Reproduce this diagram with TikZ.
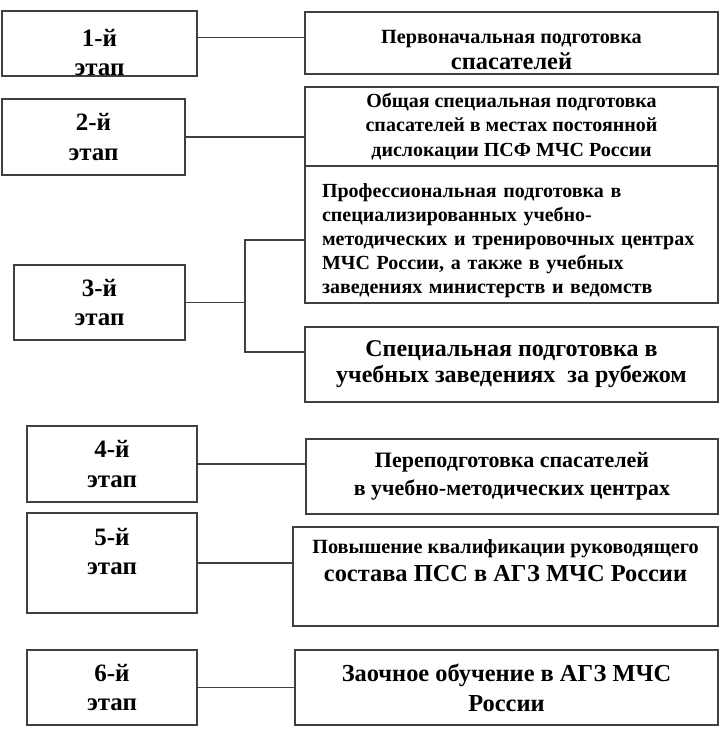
\documentclass[tikz,border=0pt]{standalone}
\usepackage{fontspec}
\setmainfont{Liberation Serif}
\usetikzlibrary{positioning,calc}

% font sizes used in the boxes
\newcommand{\bigtxt}{\fontsize{24.4}{26}\selectfont}
\newcommand{\smalltxt}{\fontsize{20.2}{26}\selectfont}

\tikzset{
  stagebox/.style={draw=black!75, line width=1.5pt, align=center, inner sep=0pt,
    minimum width=170, minimum height=75, font=\bfseries\fontsize{25}{29.5}\selectfont},
  taskbox/.style={draw=black!75, line width=1.5pt, align=center, inner sep=0pt,
    minimum width=413, font=\bfseries},
  link/.style={draw=black!75, line width=1.5pt}
}

\begin{document}
\begin{tikzpicture}[x=1pt, y=1pt]
        \useasboundingbox (0,0) rectangle (725,733);

        % stages on the left
        \node[stagebox, minimum width=195, minimum height=63] (st1) at (99.5,689.5) {\mbox{}\\[6pt]1-й\\этап};
        \node[stagebox, minimum width=183, minimum height=76] (st2) at (93.5,596) {2-й\\этап};
        \node[stagebox, minimum width=171] (st3) at (99.5,430.5) {3-й\\этап};
        \node[stagebox, minimum height=76] (st4) at (112,269) {4-й\\этап};
        \node[stagebox, minimum height=100] (st5) at (112,170) {5-й\\этап\\[-6pt]\mbox{}};
        \node[stagebox] (st6) at (112,45.5) {6-й\\этап};

        % kinds of training on the right
        \node[taskbox, minimum height=62, font=\bfseries\bigtxt] (tr1) at (511.5,690)
            {\mbox{}\\[2pt]{\smalltxt Первоначальная подготовка}\\спасателей};
        \node[taskbox, minimum height=79, font=\bfseries\fontsize{20}{24.5}\selectfont] (tr2) at (511.5,606.5)
            {Общая специальная подготовка\\спасателей в местах постоянной\\дислокации ПСФ МЧС России};
        \node[taskbox, align=left, text width=379, inner xsep=17, minimum height=137,
            font=\bfseries\fontsize{20}{24}\selectfont] (tr3a) at (511.5,498.5)
            {\mbox{}\\[2pt]Профессиональная подготовка в\\специализированных учебно-\\методических и тренировочных центрах\\МЧС России, а также в учебных\\заведениях министерств и ведомств};
        \node[taskbox, minimum height=75, font=\bfseries\fontsize{24}{26}\selectfont] (tr3b) at (511.5,368.5)
            {Специальная подготовка в\\учебных заведениях~ за рубежом};
        \node[taskbox, minimum width=412, minimum height=75, font=\bfseries\fontsize{22}{28}\selectfont] (tr4) at (512,256.5)
            {Переподготовка спасателей\\в учебно-методических центрах};
        \node[taskbox, minimum width=425, minimum height=99, font=\bfseries\fontsize{24.4}{28}\selectfont] (tr5) at (505.5,156.5)
            {{\smalltxt Повышение квалификации руководящего}\\состава ПСС в АГЗ МЧС России\\[4pt]\mbox{}};
        \node[taskbox, minimum width=423, minimum height=75, font=\bfseries\fontsize{24.4}{30}\selectfont] (tr6) at (506.5,45.5)
            {Заочное обучение в АГЗ МЧС\\России};

        % connectors
        \draw[link] ([yshift=6pt]st1.east) -- ([yshift=6pt]st1.east -| tr1.west);
        \draw[link] (st2.east) -- (st2.east -| tr2.west);
        \coordinate (fork) at (245,430.5);
        \draw[link] (st3.east) -- (fork);
        \draw[link] ([yshift=-5.5pt]tr3a.west) -| (fork) |- ([yshift=12.5pt]tr3b.west);
        \draw[link] (st4.east) -- (st4.east -| tr4.west);
        \draw[link] (st5.east) -- (st5.east -| tr5.west);
        \draw[link] (st6.east) -- (st6.east -| tr6.west);
    \end{tikzpicture}
\end{document}
